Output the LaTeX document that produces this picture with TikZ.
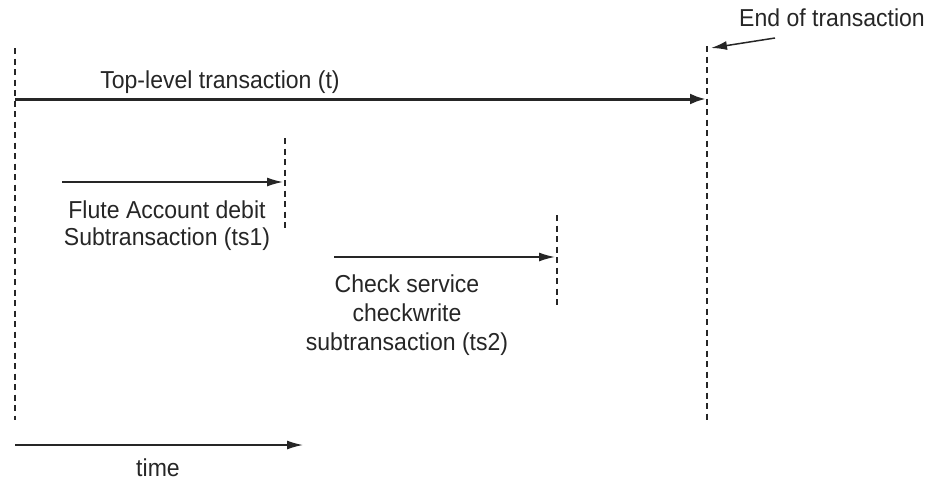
\documentclass[tikz,border=0pt]{standalone}
\usepackage{fontspec}
\setmainfont{Liberation Sans}[FakeStretch=0.94]
\usetikzlibrary{arrows.meta}
\begin{document}
\begin{tikzpicture}[x=1pt,y=-1pt,
  bound/.style={draw=black!85,line width=1.3pt,dash pattern=on 6pt off 4.5pt},
  flow/.style={draw=black!85,line width=1.5pt,-{Latex[length=16pt,width=9pt]}},
  mainflow/.style={draw=black!85,line width=3pt,-{Latex[length=16pt,width=11pt]}},
  lbl/.style={font=\fontsize{24.5}{29}\selectfont,text=black!85,anchor=base,inner sep=0pt}]
\useasboundingbox (0,0) rectangle (936,482);
% time boundaries
\coordinate (s0) at (15,48);   \coordinate (s1) at (15,420);
\coordinate (e0) at (707,46);  \coordinate (e1) at (707,420);
\coordinate (a0) at (285,138); \coordinate (a1) at (285,230);
\coordinate (b0) at (557,215); \coordinate (b1) at (557,306);
\draw[bound] (s0) -- (s1);
\draw[bound] (e0) -- (e1);
\draw[bound] (a0) -- (a1);
\draw[bound] (b0) -- (b1);
% top-level transaction
\coordinate (tstart) at (15,99);
\coordinate (tend) at (706,99);
\draw[mainflow] (tstart) -- (tend);
\node[lbl] (tl) at (220,88) {Top-level transaction (t)};
% end marker
\node[lbl] (endl) at (832,26) {End of transaction};
\coordinate (endtail) at (775,38);
\coordinate (endtip) at (711,48);
\draw[flow] (endtail) -- (endtip);
% subtransaction ts1
\coordinate (p0) at (62,182);
\coordinate (p1) at (283,182);
\draw[flow] (p0) -- (p1);
\node[lbl] (ts1a) at (167,218) {Flute Account debit};
\node[lbl] (ts1b) at (167,245) {Subtransaction (ts1)};
% subtransaction ts2
\coordinate (q0) at (334,257);
\coordinate (q1) at (555,257);
\draw[flow] (q0) -- (q1);
\node[lbl] (ts2a) at (407,292) {Check service};
\node[lbl] (ts2b) at (407,321) {checkwrite};
\node[lbl] (ts2c) at (407,350) {subtransaction (ts2)};
% time axis
\coordinate (x0) at (15,445);
\coordinate (x1) at (303,445);
\draw[flow] (x0) -- (x1);
\node[lbl] (time) at (158,476) {time};
\end{tikzpicture}
\end{document}
